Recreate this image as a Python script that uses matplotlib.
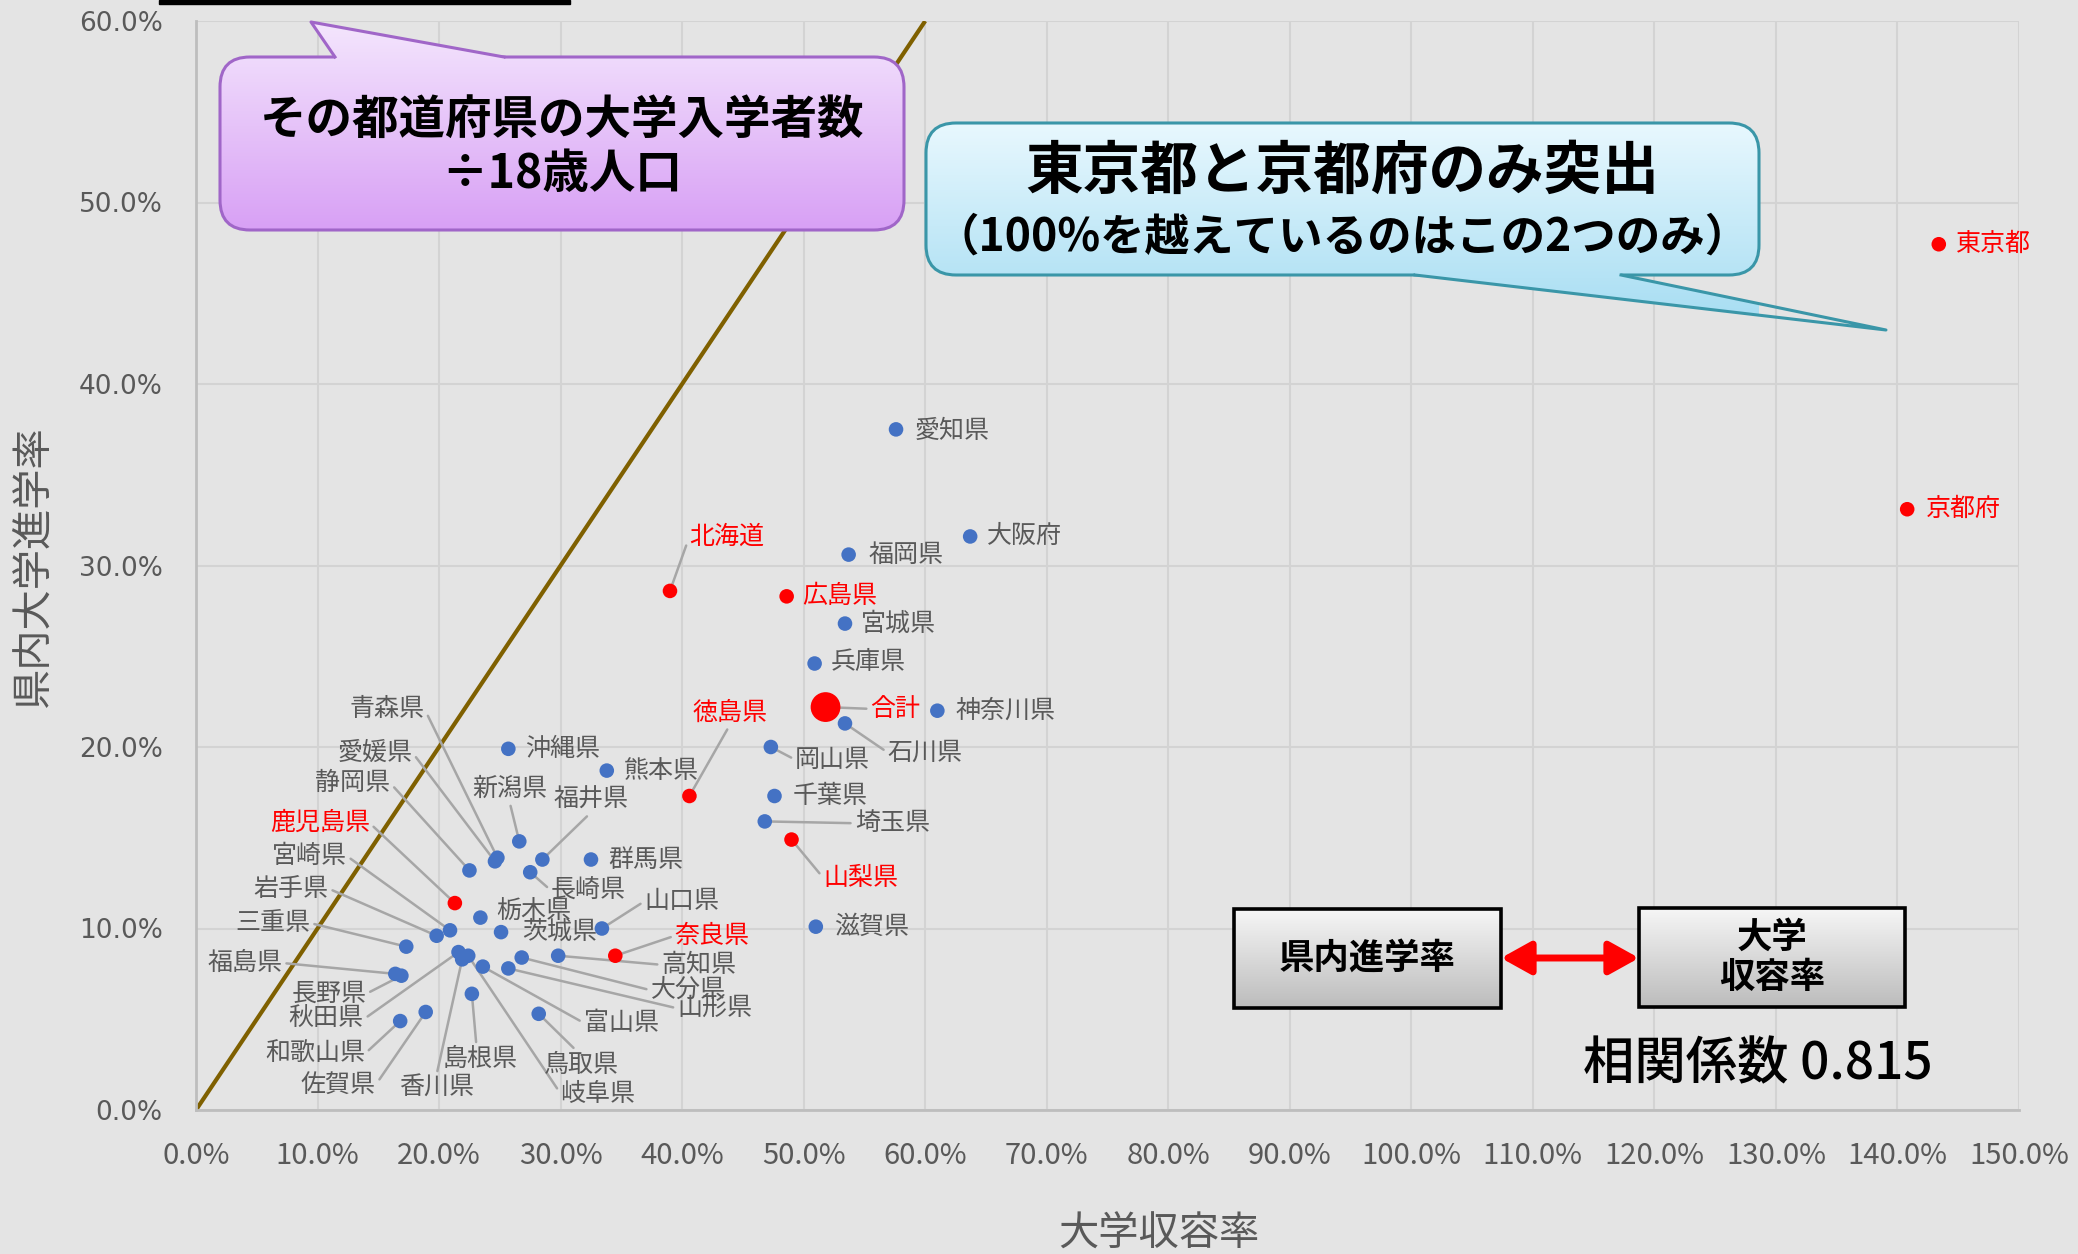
import numpy as np
import matplotlib
matplotlib.use("Agg")
import matplotlib.pyplot as plt
import matplotlib.colors as mcolors
from matplotlib.patches import FancyBboxPatch, Polygon, Rectangle
from matplotlib.ticker import FuncFormatter

plt.rcParams['font.family'] = ['Noto Sans CJK JP', 'DejaVu Sans']

# ---------------------------------------------------------------------------
# data (in %)
prefs = ['北海道', '青森県', '岩手県', '宮城県', '秋田県', '山形県', '福島県', '茨城県',
         '栃木県', '群馬県', '埼玉県', '千葉県', '東京都', '神奈川県', '新潟県', '富山県',
         '石川県', '福井県', '山梨県', '長野県', '岐阜県', '静岡県', '愛知県', '三重県',
         '滋賀県', '京都府', '大阪府', '兵庫県', '奈良県', '和歌山県', '鳥取県', '島根県',
         '岡山県', '広島県', '山口県', '徳島県', '香川県', '愛媛県', '高知県', '福岡県',
         '佐賀県', '長崎県', '熊本県', '大分県', '宮崎県', '鹿児島県', '沖縄県', '合計']

# 大学収容率
capacity = [39.0, 24.8, 19.8, 53.4, 21.6, 25.7, 16.4, 25.1,
            23.4, 32.5, 46.8, 47.6, 143.4, 61.0, 26.6, 23.6,
            53.4, 28.5, 49.0, 16.9, 22.4, 22.5, 57.6, 17.3,
            51.0, 140.8, 63.7, 50.9, 34.5, 16.8, 28.2, 22.7,
            47.3, 48.6, 33.4, 40.6, 21.9, 24.6, 29.8, 53.7,
            18.9, 27.5, 33.8, 26.8, 20.9, 21.3, 25.7, 51.8]

# 県内大学進学率
in_pref = [28.6, 13.9, 9.6, 26.8, 8.7, 7.8, 7.5, 9.8,
           10.6, 13.8, 15.9, 17.3, 47.7, 22.0, 14.8, 7.9,
           21.3, 13.8, 14.9, 7.4, 8.5, 13.2, 37.5, 9.0,
           10.1, 33.1, 31.6, 24.6, 8.5, 4.9, 5.3, 6.4,
           20.0, 28.3, 10.0, 17.3, 8.3, 13.7, 8.5, 30.6,
           5.4, 13.1, 18.7, 8.4, 9.9, 11.4, 19.9, 22.2]

highlight = ['東京都', '京都府', '北海道', '広島県', '徳島県', '山梨県', '奈良県', '鹿児島県', '合計']

guide = [0, 60]   # y = x line
correlation = 0.815

# label placement (data coords) and leader attach points
label_pos = {
    '東京都': (144.8, 47.7, 'left'), '京都府': (142.3, 33.1, 'left'),
    '愛知県': (59.1, 37.4, 'left'), '大阪府': (65.1, 31.6, 'left'),
    '福岡県': (55.3, 30.6, 'left'), '北海道': (40.6, 31.6, 'left'),
    '広島県': (49.9, 28.3, 'left'), '宮城県': (54.7, 26.8, 'left'),
    '兵庫県': (52.2, 24.7, 'left'), '合計': (55.5, 22.1, 'left'),
    '神奈川県': (62.5, 22.0, 'left'), '石川県': (56.9, 19.7, 'left'),
    '岡山県': (49.3, 19.3, 'left'), '千葉県': (49.1, 17.3, 'left'),
    '埼玉県': (54.2, 15.8, 'left'), '山梨県': (51.6, 12.8, 'left'),
    '滋賀県': (52.5, 10.1, 'left'), '沖縄県': (27.1, 19.9, 'left'),
    '熊本県': (35.2, 18.7, 'left'), '徳島県': (43.9, 21.9, 'center'),
    '新潟県': (25.8, 17.7, 'center'), '福井県': (29.4, 17.1, 'left'),
    '群馬県': (33.9, 13.8, 'left'), '長崎県': (29.2, 12.1, 'left'),
    '山口県': (36.9, 11.5, 'left'), '栃木県': (24.7, 10.9, 'left'),
    '茨城県': (26.8, 9.8, 'left'), '奈良県': (39.4, 9.6, 'left'),
    '高知県': (38.3, 8.0, 'left'), '大分県': (37.4, 6.6, 'left'),
    '山形県': (39.6, 5.6, 'left'), '富山県': (31.9, 4.8, 'left'),
    '鳥取県': (28.6, 2.5, 'left'), '岐阜県': (30.0, 0.9, 'left'),
    '島根県': (20.3, 2.8, 'left'), '香川県': (16.7, 1.2, 'left'),
    '青森県': (18.8, 22.1, 'right'), '愛媛県': (17.8, 19.7, 'right'),
    '静岡県': (16.0, 18.0, 'right'), '鹿児島県': (14.3, 15.8, 'right'),
    '宮崎県': (12.4, 14.0, 'right'), '岩手県': (10.9, 12.2, 'right'),
    '三重県': (9.4, 10.3, 'right'), '福島県': (7.1, 8.1, 'right'),
    '長野県': (14.0, 6.4, 'right'), '秋田県': (13.8, 5.0, 'right'),
    '和歌山県': (13.9, 3.1, 'right'), '佐賀県': (14.8, 1.4, 'right'),
}
leaders = {
    '北海道': (0, 0.5), '合計': (0, 0.5), '石川県': (0, 0.5), '岡山県': (0, 0.5),
    '埼玉県': (0, 0.5), '山梨県': (0, 0.5), '長崎県': (0, 0.5), '山口県': (0, 0.5),
    '奈良県': (0, 0.5), '高知県': (0, 0.5), '大分県': (0, 0.5), '山形県': (0, 0.5),
    '富山県': (0, 0.5), '岐阜県': (0, 0.5), '鳥取県': (0.45, 1), '島根県': (0.45, 1),
    '香川県': (0.5, 1), '福井県': (0.5, 0), '新潟県': (0.5, 0), '徳島県': (0.5, 0),
    '青森県': (1, 0.5), '愛媛県': (1, 0.5), '静岡県': (1, 0.5), '鹿児島県': (1, 0.5),
    '宮崎県': (1, 0.5), '岩手県': (1, 0.5), '三重県': (1, 0.5), '福島県': (1, 0.5),
    '長野県': (1, 0.5), '秋田県': (1, 0.5), '和歌山県': (1, 0.5), '佐賀県': (1, 0.5),
}

# ---------------------------------------------------------------------------
W, H = 2078, 1254
BG = '#e4e4e4'
GRAY = '#595959'
BLUE = '#4472c4'
RED = '#ff0000'

fig = plt.figure(figsize=(W / 100, H / 100), dpi=100)
fig.patch.set_facecolor(BG)
ax = fig.add_axes([196 / W, 1 - 1110 / H, (2019 - 196) / W, (1110 - 21) / H])
ax.set_facecolor(BG)

ax.set_xlim(0, 150)
ax.set_ylim(0, 60)
ax.set_xticks(range(0, 151, 10))
ax.set_yticks(range(0, 61, 10))
pct = FuncFormatter(lambda v, p: f'{v:.1f}%')
ax.xaxis.set_major_formatter(pct)
ax.yaxis.set_major_formatter(pct)
ax.tick_params(length=0, colors=GRAY)
ax.tick_params(axis='x', labelsize=21, pad=22, labelfontfamily='Noto Sans CJK JP')
ax.tick_params(axis='y', labelsize=19, pad=24, labelfontfamily='DejaVu Sans')
ax.grid(True, color='#d3d3d3', lw=1.5)
ax.set_axisbelow(True)
for s in ['top', 'right']:
    ax.spines[s].set_visible(False)
for s in ['left', 'bottom']:
    ax.spines[s].set_color('#bdbdbd')
    ax.spines[s].set_linewidth(2)

ax.plot(guide, guide, color='#7f6000', lw=3, zorder=2, solid_capstyle='butt')

cols = [RED if p in highlight else BLUE for p in prefs]
sizes = [460 if p == '合計' else 110 for p in prefs]
ax.scatter(capacity, in_pref, s=sizes, c=cols, zorder=4, linewidths=0)

for p, x, y in zip(prefs, capacity, in_pref):
    tx, ty, ha = label_pos[p]
    c = RED if p in highlight else GRAY
    kw = {}
    if p in leaders:
        kw['arrowprops'] = dict(arrowstyle='-', color='#a6a6a6', lw=1.8,
                                shrinkA=1, shrinkB=0, relpos=leaders[p])
    ax.annotate(p, xy=(x, y), xytext=(tx, ty), textcoords='data', ha=ha, va='center',
                fontsize=18, color=c, zorder=3, **kw)

fig.text(33 / W, 1 - 566 / H, '県内大学進学率', rotation=90, ha='center', va='center',
         fontsize=29, color=GRAY)
fig.text(1159 / W, 1 - 1214 / H, '大学収容率', ha='center', va='top', fontsize=29, color=GRAY)

# ---------------------------------------------------------------------------
# overlay in pixel coords for callouts
ov = fig.add_axes([0, 0, 1, 1], zorder=5)
ov.set_xlim(0, W)
ov.set_ylim(H, 0)
ov.axis('off')


def grad(clip, extent, c_top, c_bot, z):
    t = np.linspace(0, 1, 256)[:, None]
    a = np.array(mcolors.to_rgb(c_top))
    b = np.array(mcolors.to_rgb(c_bot))
    img = (a * (1 - t) + b * t)[:, None, :]
    im = ov.imshow(img, extent=extent, aspect='auto', zorder=z, interpolation='bilinear')
    im.set_clip_path(clip)


def callout(box, tri, c_top, c_bot, edge):
    x0, y0, x1, y1 = box
    tip, b1, b2 = tri
    ylo = min(y0, tip[1])
    yhi = max(y1, tip[1])
    ext = (x0, x1, yhi, ylo)
    bp = FancyBboxPatch((x0, y0), x1 - x0, y1 - y0, boxstyle='round,pad=0,rounding_size=30',
                        fc='none', ec=edge, lw=2.2, zorder=7)
    ov.add_patch(bp)
    grad(bp, ext, c_top, c_bot, 6)
    by = b1[1]
    inner = by + 4 if tip[1] < by else by - 4
    tp = Polygon([tip, b1, (b1[0], inner), (b2[0], inner), b2], closed=True,
                 fc='none', ec='none', zorder=7.5)
    ov.add_patch(tp)
    grad(tp, ext, c_top, c_bot, 7.5)
    ov.plot([b1[0], tip[0], b2[0]], [b1[1], tip[1], b2[1]], color=edge, lw=2.2, zorder=8)


callout((220, 57, 904, 230), ((311, 22), (335, 57), (504, 57)), '#f4e6fd', '#d8a0f5', '#a066c8')
ov.text(562, 120, 'その都道府県の大学入学者数', ha='center', va='center', fontsize=33.5,
        fontweight='bold', zorder=9)
ov.text(562, 174, '÷18歳人口', ha='center', va='center', fontsize=33.5, fontweight='bold', zorder=9)

callout((926, 123, 1759, 275), ((1886, 330), (1415, 275), (1621, 275)), '#e8f8fe', '#a4dcf2', '#3a96a8')
ov.text(1342, 172, '東京都と京都府のみ突出', ha='center', va='center', fontsize=41.5,
        fontweight='bold', zorder=9)
ov.text(1342, 238, '（100%を越えているのはこの2つのみ）', ha='center', va='center', fontsize=32,
        fontweight='bold', zorder=9)

# bottom-right boxes
for (x0, y0, x1, y1), txt in [((1234, 909, 1501, 1008), '県内進学率'),
                              ((1639, 908, 1905, 1007), '大学\n収容率')]:
    rp = Rectangle((x0, y0), x1 - x0, y1 - y0, fc='none', ec='black', lw=2.6, zorder=7)
    ov.add_patch(rp)
    grad(rp, (x0, x1, y1, y0), '#f6f6f6', '#bcbcbc', 6)
    ov.text((x0 + x1) / 2, (y0 + y1) / 2, txt, ha='center', va='center', fontsize=25.5,
            fontweight='bold', linespacing=1.2, zorder=9)

ov.annotate('', xy=(1639, 958), xytext=(1501, 958), zorder=9,
            arrowprops=dict(arrowstyle='<|-|>,head_length=0.9,head_width=0.5', color=RED,
                            lw=5, shrinkA=0, shrinkB=0, mutation_scale=20))

ov.text(1758, 1064, f'相関係数 {correlation}', ha='center', va='center', fontsize=37,
        fontweight='medium', zorder=9)

# black bar at top edge
ov.add_patch(Rectangle((159, 0), 411, 4, color='black', zorder=9))

fig.savefig('out.png', dpi=100, facecolor=BG)
